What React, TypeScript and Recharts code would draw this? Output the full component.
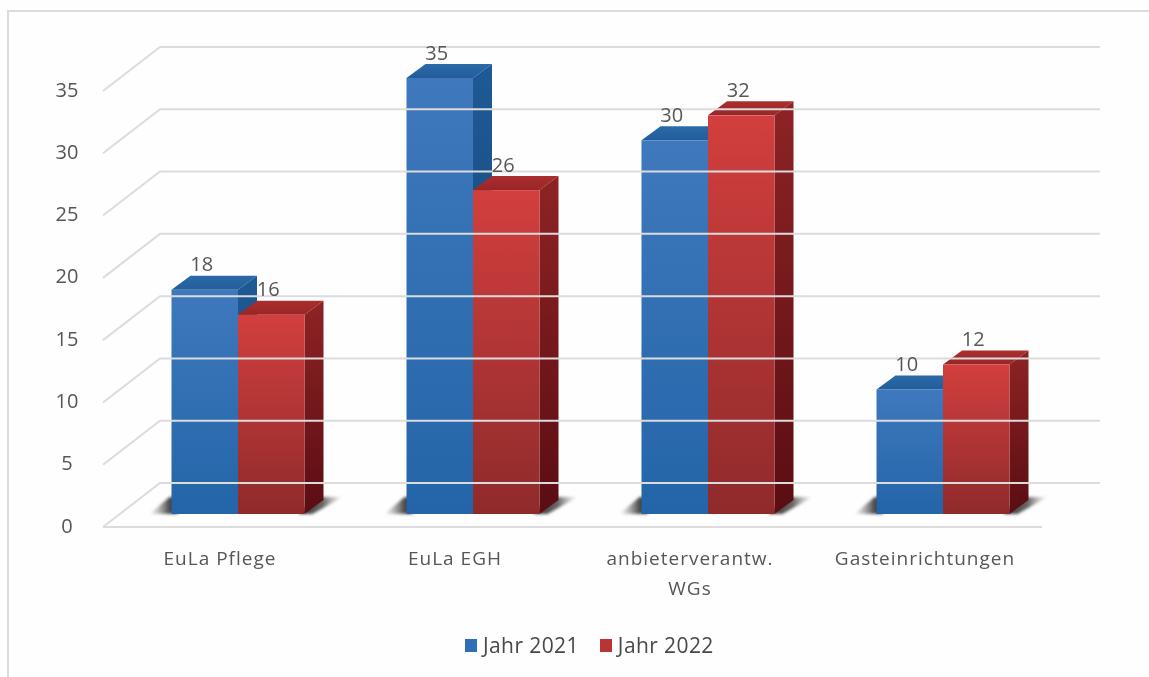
import React from 'react';
import { BarChart, Bar, XAxis, YAxis, Legend, LabelList } from 'recharts';

const categories = ['EuLa Pflege', 'EuLa EGH', 'anbieterverantw. WGs', 'Gasteinrichtungen'];
const jahr2021 = [18, 35, 30, 10];
const jahr2022 = [16, 26, 32, 12];
const yTicks = [0, 5, 10, 15, 20, 25, 30, 35];
const table = categories.map((name, i) => ({ name, a: jahr2021[i], b: jahr2022[i] }));

const FONT = '"Open Sans", sans-serif';
const TEXT = '#565656';
const GRID = '#dcdcdc';
const DX = 19;
const DY = 14;

const YTick = (props: any) => {
  const { y, payload } = props;
  const by = y - 31;
  return (
    <g>
      <polyline points={`103,${y + 13} 160,${by} 1100,${by}`} fill="none" stroke={GRID} strokeWidth={2} />
      {payload.value === 0 && <line x1={103} y1={y + 13} x2={1042} y2={y + 13} stroke={GRID} strokeWidth={2} />}
      <text x={67} y={y + 11} textAnchor="middle" dominantBaseline="central" fontFamily={FONT} fontSize={20} fill={TEXT}>{payload.value}</text>
    </g>
  );
};

const XTick = (props: any) => {
  const { x, payload } = props;
  const v: string = payload.value;
  const lines = v.length > 18 ? [v.slice(0, v.lastIndexOf(' ')), v.slice(v.lastIndexOf(' ') + 1)] : [v];
  return (
    <g>
      {lines.map((l, i) => (
        <text key={l} x={x - 18} y={558 + i * 30} textAnchor="middle" dominantBaseline="central" fontFamily={FONT} fontSize={19} letterSpacing={1} fill={TEXT}>{l}</text>
      ))}
    </g>
  );
};

const Bar3D = (props: any) => {
  const { x, y, width, height, series } = props;
  const r = x + width;
  const b = y + height;
  return (
    <g>
      {series === 'a' ? (
        <polygon points={`${x - 22},${b} ${x + 6},${b} ${x + 6},${b - 17} ${x - 2},${b - 17}`} fill="url(#shadow-l)" filter="url(#soft)" />
      ) : (
        <polygon points={`${r - 6},${b} ${r + 8},${b} ${r + 38},${b - 17} ${r + 10},${b - 17}`} fill="url(#shadow-r)" filter="url(#soft)" />
      )}
      <polygon points={`${x},${y} ${x + DX},${y - DY} ${r + DX},${y - DY} ${r},${y}`} fill={`url(#top-${series})`} />
      <polygon points={`${r},${y} ${r + DX},${y - DY} ${r + DX},${b - DY} ${r},${b}`} fill={`url(#side-${series})`} />
      <rect x={x} y={y} width={width} height={height} fill={`url(#front-${series})`} />
    </g>
  );
};

const BarLabel = (props: any) => {
  const { x, y, width, value } = props;
  return (
    <text x={x + width / 2 - 3} y={y - 26} textAnchor="middle" dominantBaseline="central" fontFamily={FONT} fontSize={20} fill={TEXT}>{value}</text>
  );
};

const LegendContent = (props: any) => (
  <div style={{ display: 'flex', alignItems: 'center', fontFamily: FONT, fontSize: 21, letterSpacing: 0.4, color: '#484848', lineHeight: '26px' }}>
    {(props.payload || []).map((p: any, i: number) => (
      <div key={p.value} style={{ display: 'flex', alignItems: 'center', marginRight: i === 0 ? 21 : 0 }}>
        <span style={{ width: 12, height: 13, marginRight: 6, background: p.color }} />
        <span>{p.value}</span>
      </div>
    ))}
  </div>
);

export default function App() {
  return (
    <div style={{ position: 'absolute', left: 0, top: 0, width: 1149, height: 677, background: '#fefefe', overflow: 'hidden', filter: 'blur(0.5px)' }}>
      <div style={{ position: 'absolute', left: 7, top: 10, width: 1160, height: 680, border: `2px solid ${GRID}`, boxSizing: 'border-box' }} />
      <BarChart
        width={1149}
        height={677}
        data={table}
        barSize={66.5}
        barGap={0}
        margin={{ top: 78, right: 88.5, bottom: 103, left: 60.5 }}
      >
        <defs>
          <filter id="soft" x="-30%" y="-40%" width="160%" height="180%"><feGaussianBlur stdDeviation="1.8" /></filter>
          <linearGradient id="shadow-l" x1="0" y1="0" x2="1" y2="0">
            <stop offset="0" stopColor="#888" stopOpacity="0.05" /><stop offset="0.7" stopColor="#444" stopOpacity="0.95" /><stop offset="1" stopColor="#333" stopOpacity="1" />
          </linearGradient>
          <linearGradient id="shadow-r" x1="0" y1="0" x2="1" y2="0">
            <stop offset="0" stopColor="#333" stopOpacity="1" /><stop offset="0.55" stopColor="#555" stopOpacity="0.9" /><stop offset="1" stopColor="#999" stopOpacity="0.05" />
          </linearGradient>
          <linearGradient id="front-a" x1="0" y1="0" x2="0" y2="1">
            <stop offset="0" stopColor="#3f78bd" /><stop offset="1" stopColor="#2365a8" />
          </linearGradient>
          <linearGradient id="front-b" x1="0" y1="0" x2="0" y2="1">
            <stop offset="0" stopColor="#d23f3e" /><stop offset="1" stopColor="#8f2a2b" />
          </linearGradient>
          <linearGradient id="side-a" x1="0" y1="0" x2="0" y2="1">
            <stop offset="0" stopColor="#1f5a96" /><stop offset="1" stopColor="#143f6e" />
          </linearGradient>
          <linearGradient id="side-b" x1="0" y1="0" x2="0" y2="1">
            <stop offset="0" stopColor="#8e2324" /><stop offset="1" stopColor="#5a0d13" />
          </linearGradient>
          <linearGradient id="top-a" x1="0" y1="0" x2="0" y2="1">
            <stop offset="0" stopColor="#2b6aa8" /><stop offset="1" stopColor="#215d99" />
          </linearGradient>
          <linearGradient id="top-b" x1="0" y1="0" x2="0" y2="1">
            <stop offset="0" stopColor="#ab2e2e" /><stop offset="1" stopColor="#982626" />
          </linearGradient>
        </defs>
        <YAxis width={60} domain={[0, 35]} ticks={yTicks} axisLine={false} tickLine={false} tick={<YTick />} interval={0} />
        <XAxis dataKey="name" height={60} axisLine={false} tickLine={false} tick={<XTick />} interval={0} />
        <Legend verticalAlign="middle" align="center" wrapperStyle={{ position: 'absolute', left: 465, top: 632, width: 'auto' }} content={<LegendContent />} />
        <Bar dataKey="a" name="Jahr 2021" fill="#2f6fb5" isAnimationActive={false} shape={<Bar3D series="a" />}>
          <LabelList dataKey="a" content={<BarLabel />} />
        </Bar>
        <Bar dataKey="b" name="Jahr 2022" fill="#b93535" isAnimationActive={false} shape={<Bar3D series="b" />}>
          <LabelList dataKey="b" content={<BarLabel />} />
        </Bar>
      </BarChart>
    </div>
  );
}
